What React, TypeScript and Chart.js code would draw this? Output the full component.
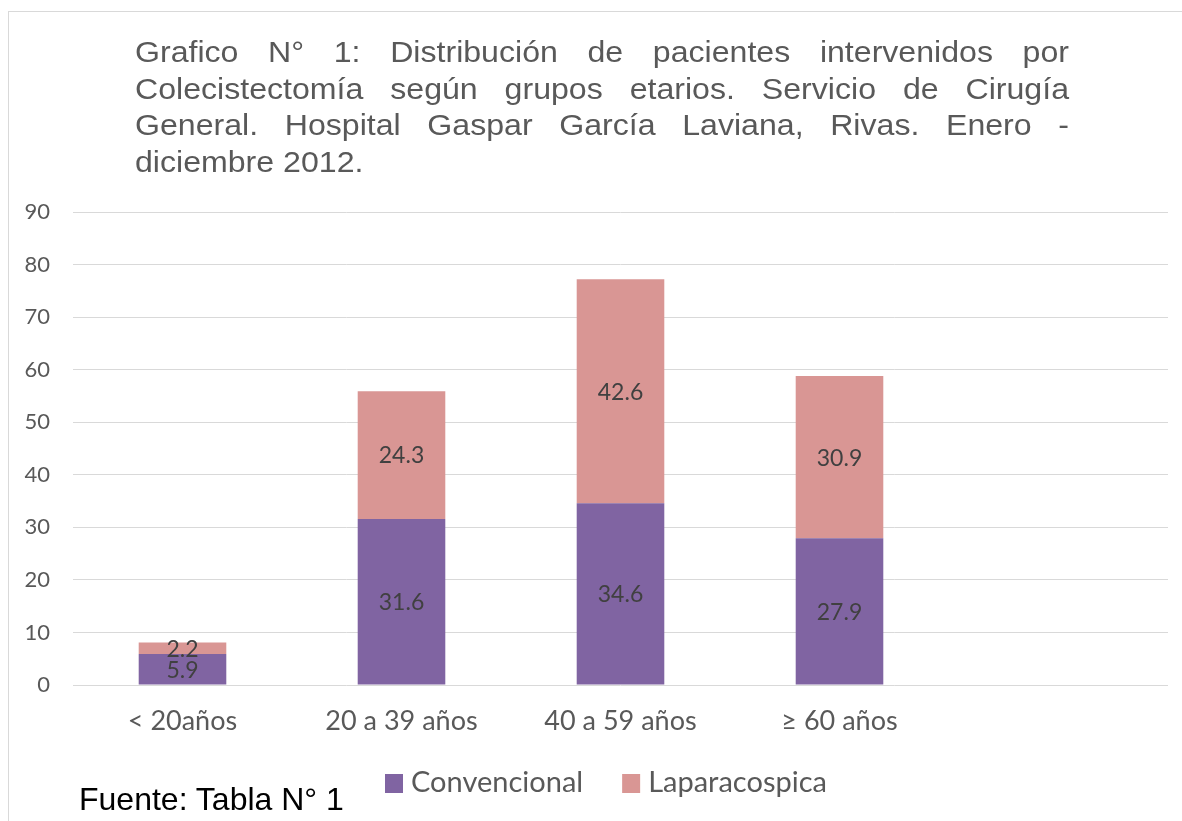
import React, { useEffect, useRef } from "react";
import { Chart, registerables } from "chart.js";

Chart.register(...registerables);

const categories = ["< 20años", "20 a 39 años", "40 a 59 años", "≥ 60 años", ""];
const convencional = [5.9, 31.6, 34.6, 27.9, null];
const laparacospica = [2.2, 24.3, 42.6, 30.9, null];
const seriesNames = ["Convencional", "Laparacospica"];
const seriesColors = ["#8064A2", "#D99694"];

const titleLines = [
  "Grafico N° 1: Distribución de pacientes intervenidos por",
  "Colecistectomía según grupos etarios. Servicio de Cirugía",
  "General. Hospital Gaspar García Laviana, Rivas. Enero -",
  "diciembre 2012.",
];
const sourceText = "Fuente: Tabla N° 1";

const FONT = "Lato, 'Open Sans', sans-serif";

const dataLabelPlugin = {
  id: "dataLabelPlugin",
  afterDatasetsDraw(chart: any) {
    const ctx = chart.ctx;
    ctx.save();
    ctx.font = `23px ${FONT}`;
    ctx.fillStyle = "#404040";
    ctx.textAlign = "center";
    ctx.textBaseline = "middle";
    chart.data.datasets.forEach((ds: any, di: number) => {
      const meta = chart.getDatasetMeta(di);
      meta.data.forEach((bar: any, i: number) => {
        const v = ds.data[i];
        if (v === null || v === undefined) return;
        const y = (bar.y + bar.base) / 2;
        ctx.fillText(v.toFixed(1), bar.x, y + 1);
      });
    });
    ctx.restore();
  },
};

const legendPlugin = {
  id: "customLegend",
  afterDraw(chart: any) {
    const ctx = chart.ctx;
    ctx.save();
    ctx.font = `29px ${FONT}`;
    ctx.textBaseline = "middle";
    ctx.textAlign = "left";
    let x = 385;
    const yc = 783;
    chart.data.datasets.forEach((ds: any) => {
      ctx.fillStyle = ds.backgroundColor;
      ctx.fillRect(x, yc - 9, 18, 19);
      x += 18 + 8;
      ctx.fillStyle = "#595959";
      ctx.fillText(ds.label, x, yc);
      x += ctx.measureText(ds.label).width + 39;
    });
    ctx.restore();
  },
};

export default function App() {
  const ref = useRef<HTMLCanvasElement | null>(null);

  useEffect(() => {
    if (!ref.current) return;
    const chart = new Chart(ref.current, {
      type: "bar",
      data: {
        labels: categories,
        datasets: [
          {
            label: seriesNames[0],
            data: convencional,
            backgroundColor: seriesColors[0],
            categoryPercentage: 0.8,
            barPercentage: 0.5,
          },
          {
            label: seriesNames[1],
            data: laparacospica,
            backgroundColor: seriesColors[1],
            categoryPercentage: 0.8,
            barPercentage: 0.5,
          },
        ],
      },
      options: {
        responsive: false,
        animation: false,
        layout: { padding: { top: 212, right: 14, left: 0, bottom: 0 } },
        plugins: {
          legend: { display: false },
          title: { display: false },
          tooltip: { enabled: false },
        },
        scales: {
          x: {
            stacked: true,
            grid: { display: false },
            border: { display: false },
            ticks: {
              color: "#595959",
              font: { family: FONT, size: 27 },
              padding: 12,
              maxRotation: 0,
              autoSkip: false,
            },
            afterFit(scale: any) {
              scale.height = 136;
            },
          },
          y: {
            stacked: true,
            min: 0,
            max: 90,
            grid: { color: "#D9D9D9", lineWidth: 1, drawTicks: false },
            border: { display: false },
            ticks: {
              stepSize: 10,
              color: "#595959",
              font: { family: FONT, size: 22 },
              padding: 23,
            },
            afterFit(scale: any) {
              scale.width = 73;
            },
          },
        },
      },
      plugins: [dataLabelPlugin, legendPlugin],
    } as any);
    return () => chart.destroy();
  }, []);

  const sx = 1.07;

  return (
    <div
      style={{
        position: "fixed",
        left: 0,
        top: 0,
        width: 1182,
        height: 821,
        overflow: "hidden",
        background: "#ffffff",
      }}
    >
      <div
        style={{
          position: "absolute",
          left: 8,
          top: 11,
          width: 1300,
          height: 900,
          borderLeft: "1px solid #D9D9D9",
          borderTop: "1px solid #D9D9D9",
        }}
      />
      <canvas
        ref={ref}
        width={1182}
        height={821}
        style={{ position: "absolute", left: 0, top: 0, width: 1182, height: 821 }}
      />
      <div
        style={{
          position: "absolute",
          left: 135,
          top: 34,
          width: 934 / sx,
          transform: `scaleX(${sx})`,
          transformOrigin: "left top",
          fontFamily: "'Liberation Sans', Arial, sans-serif",
          fontSize: 30,
          lineHeight: "36.5px",
          color: "#595959",
        }}
      >
        {titleLines.map((line, i) => (
          <div
            key={i}
            style={{
              textAlign: i < titleLines.length - 1 ? "justify" : "left",
              textAlignLast: i < titleLines.length - 1 ? "justify" : "left",
              whiteSpace: "nowrap",
            }}
          >
            {line}
          </div>
        ))}
      </div>
      <div
        style={{
          position: "absolute",
          left: 79,
          top: 783,
          fontFamily: "'Liberation Sans', Arial, sans-serif",
          fontSize: 32,
          lineHeight: 1,
          color: "#000000",
        }}
      >
        {sourceText}
      </div>
    </div>
  );
}
